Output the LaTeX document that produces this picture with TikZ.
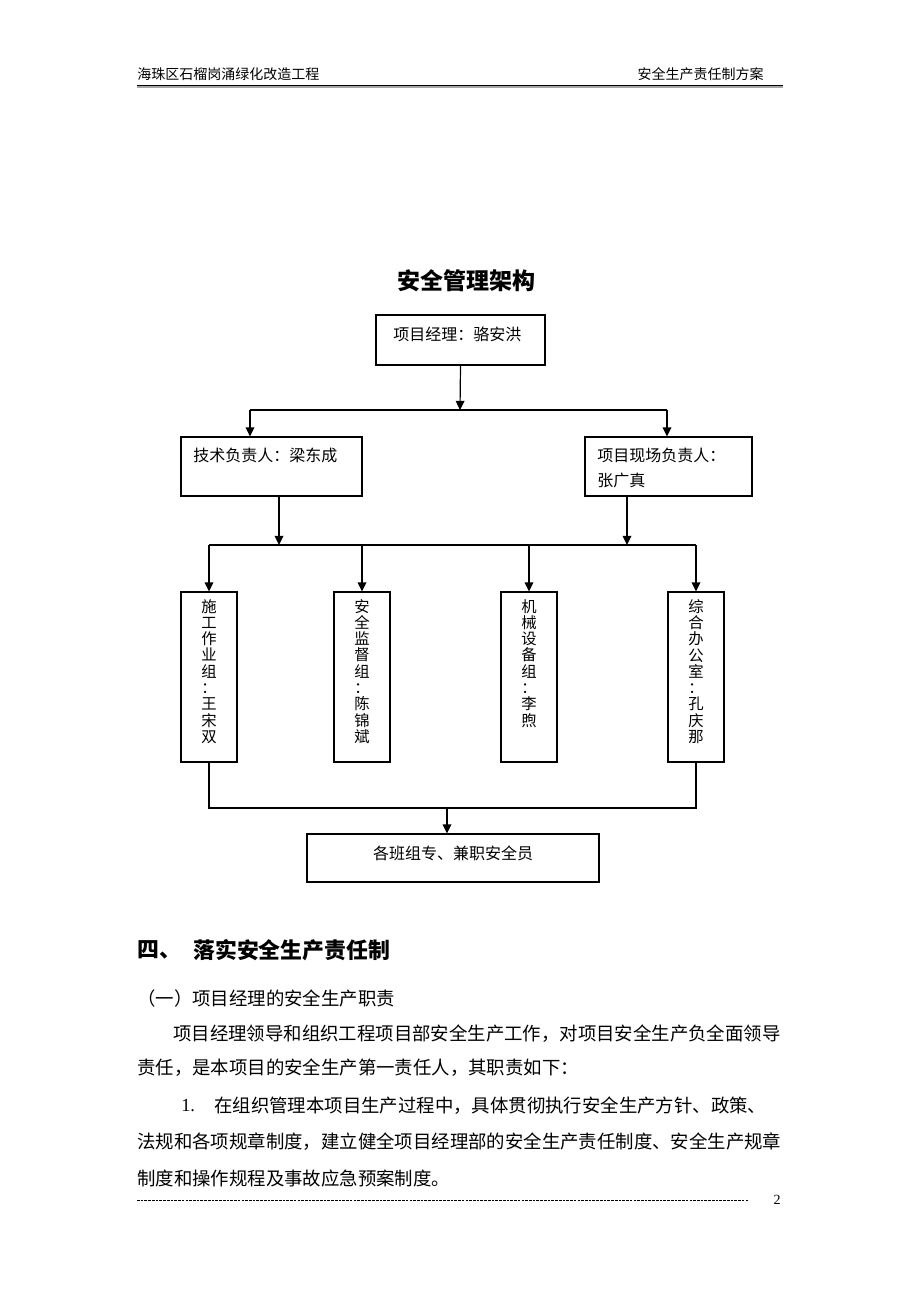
\documentclass[tikz,border=0pt]{standalone}
\usepackage{fontspec}
\setmainfont{Liberation Serif}
\newfontfamily\cjk{Noto Sans CJK SC}
\usetikzlibrary{arrows.meta}
\begin{document}
\begin{tikzpicture}[x=0.75pt,y=-0.75pt,
  box/.style={draw=black,line width=0.8pt,inner sep=0pt},
  conn/.style={line width=0.9pt},
  arr/.style={line width=0.9pt,-{Triangle[length=6.8pt,width=6.5pt]}},
  lbl/.style={anchor=west,inner sep=0pt,font=\cjk\fontsize{12}{14}\selectfont},
  vlbl/.style={align=center,inner sep=0pt,font=\cjk\fontsize{11.5}{12.2}\selectfont},
  body/.style={anchor=west,inner sep=0pt,font=\cjk\fontsize{13.8}{16}\selectfont},
  hdr/.style={inner sep=0pt,font=\cjk\fontsize{10.5}{12}\selectfont}]
\useasboundingbox[fill=white] (0,0) rectangle (920,1302);
% header
\node[hdr,anchor=west] (hl) at (137,74) {海珠区石榴岗涌绿化改造工程};
\node[hdr,anchor=east] (hr) at (764,74) {安全生产责任制方案};
\draw[line width=0.8pt,black] (137,85.5) -- (783,85.5);
\draw[line width=0.8pt,gray!70] (137,87) -- (783,87);
% title
\node[inner sep=0pt,font=\cjk\bfseries\fontsize{17.25}{20}\selectfont] (title) at (466,281) {安全管理架构};
% boxes
\node[box,minimum width=169*0.75pt,minimum height=50*0.75pt] (pm) at (460.5,340) {};
\node[lbl] (pmt) at (393,334) {项目经理：骆安洪};
\node[box,minimum width=181*0.75pt,minimum height=59*0.75pt] (tech) at (271.5,466.5) {};
\node[lbl] (techt) at (193,455) {技术负责人：梁东成};
\node[box,minimum width=167*0.75pt,minimum height=59*0.75pt] (site) at (668.5,466.5) {};
\node[lbl] (sitet1) at (597,455) {项目现场负责人：};
\node[lbl] (sitet2) at (597,480) {张广真};
\node[box,minimum width=56*0.75pt,minimum height=170*0.75pt] (g1) at (209,677) {};
\node[box,minimum width=56*0.75pt,minimum height=170*0.75pt] (g2) at (362,677) {};
\node[box,minimum width=56*0.75pt,minimum height=170*0.75pt] (g3) at (529,677) {};
\node[box,minimum width=56*0.75pt,minimum height=170*0.75pt] (g4) at (696,677) {};
\node[vlbl,anchor=north] (g1t) at (209,599) {施\\工\\作\\业\\组\\：\\王\\宋\\双};
\node[vlbl,anchor=north] (g2t) at (362,599) {安\\全\\监\\督\\组\\：\\陈\\锦\\斌};
\node[vlbl,anchor=north] (g3t) at (529,599) {机\\械\\设\\备\\组\\：\\李\\煦};
\node[vlbl,anchor=north] (g4t) at (696,599) {综\\合\\办\\公\\室\\：\\孔\\庆\\那};
\node[box,minimum width=292*0.75pt,minimum height=48*0.75pt] (crew) at (453,858) {};
\node[inner sep=0pt,font=\cjk\fontsize{12}{14}\selectfont] (crewt) at (453,853) {各班组专、兼职安全员};
% connectors
\coordinate (j1) at (460,410);
\coordinate (j1l) at (250,410);
\coordinate (j1r) at (667,410);
\draw[arr] (pm.south) -- (j1);
\draw[conn] (j1l) -- (j1r);
\draw[arr] (j1l) -- (j1l |- tech.north);
\draw[arr] (j1r) -- (j1r |- site.north);
\coordinate (t2) at (279,496);
\coordinate (s2) at (627,496);
\coordinate (j2a) at (279,545);
\coordinate (j2b) at (627,545);
\draw[arr] (t2) -- (j2a);
\draw[arr] (s2) -- (j2b);
\coordinate (h1) at (209,545);
\coordinate (h4) at (696,545);
\draw[conn] (h1) -- (h4);
\draw[arr] (h1) -- (g1.north);
\draw[arr] (g2.north |- h1) -- (g2.north);
\draw[arr] (g3.north |- h1) -- (g3.north);
\draw[arr] (h4) -- (g4.north);
\coordinate (b1) at (209,808);
\coordinate (b4) at (696,808);
\coordinate (bm) at (447,808);
\draw[conn] (g1.south) -- (b1) -- (b4) -- (g4.south);
\draw[arr] (bm) -- (bm |- crew.north);
% text body
\node[anchor=west,inner sep=0pt,font=\cjk\bfseries\fontsize{16.4}{19}\selectfont] (sec) at (137,950) {四、};
\node[anchor=west,inner sep=0pt,font=\cjk\bfseries\fontsize{16.4}{19}\selectfont] (sect) at (193,950) {落实安全生产责任制};
\node[body] (p0) at (137,998) {（一）项目经理的安全生产职责};
\node[body] (p1) at (173,1034) {项目经理领导和组织工程项目部安全生产工作，对项目安全生产负全面领导};
\node[body] (p2) at (137,1068) {责任，是本项目的安全生产第一责任人，其职责如下：};
\node[anchor=west,inner sep=0pt,font=\fontsize{13.8}{16}\selectfont] (n1) at (181,1106) {1.};
\node[body] (p3) at (214,1106) {在组织管理本项目生产过程中，具体贯彻执行安全生产方针、政策、};
\node[body] (p4) at (137,1142) {法规和各项规章制度，建立健全项目经理部的安全生产责任制度、安全生产规章};
\node[body] (p5) at (137,1178) {制度和操作规程及事故应急预案制度。};
\draw[line width=0.5pt,dash pattern=on 2pt off 0.8pt] (137,1200) -- (748,1200);
\node[anchor=center,inner sep=0pt,font=\fontsize{10.5}{12}\selectfont] (pg) at (777,1200) {2};
\end{tikzpicture}
\end{document}
